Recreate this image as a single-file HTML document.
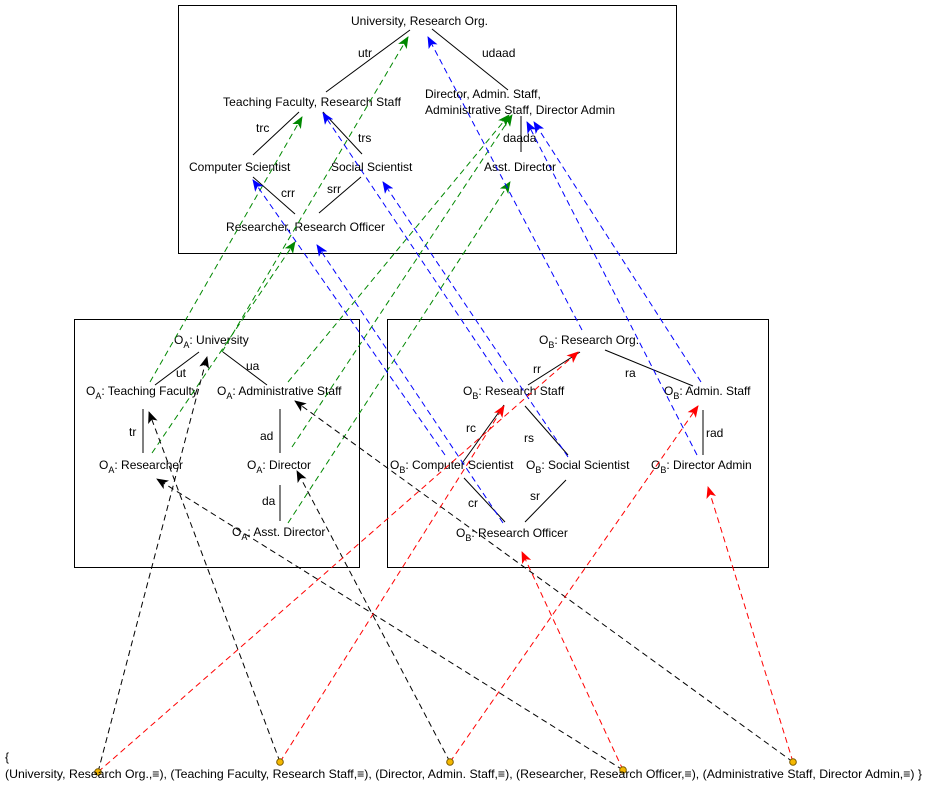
<!DOCTYPE html>
<html><head><meta charset="utf-8">
<style>
html,body{margin:0;padding:0;background:#fff;}
svg{display:block;}
text{font-family:"Liberation Sans",Arial,sans-serif;font-size:12px;fill:#000;}
.sub{font-size:9px;}
</style></head>
<body>
<svg width="936" height="807" viewBox="0 0 936 807" xmlns="http://www.w3.org/2000/svg">
<defs>
<marker id="mkk" viewBox="0 0 12 10" refX="11" refY="5" markerWidth="12" markerHeight="10" markerUnits="userSpaceOnUse" orient="auto"><path d="M0,0 L12,5 L0,10 L3,5 Z" fill="#000"/></marker>
<marker id="mkr" viewBox="0 0 12 10" refX="11" refY="5" markerWidth="12" markerHeight="10" markerUnits="userSpaceOnUse" orient="auto"><path d="M0,0 L12,5 L0,10 L3,5 Z" fill="#f00"/></marker>
<marker id="mkg" viewBox="0 0 12 10" refX="11" refY="5" markerWidth="12" markerHeight="10" markerUnits="userSpaceOnUse" orient="auto"><path d="M0,0 L12,5 L0,10 L3,5 Z" fill="#080"/></marker>
<marker id="mkb" viewBox="0 0 12 10" refX="11" refY="5" markerWidth="12" markerHeight="10" markerUnits="userSpaceOnUse" orient="auto"><path d="M0,0 L12,5 L0,10 L3,5 Z" fill="#00f"/></marker>
</defs>

<rect x="178.5" y="5.5" width="498" height="248" fill="none" stroke="#000"/>
<rect x="74.5" y="319.5" width="285" height="248" fill="none" stroke="#000"/>
<rect x="387.5" y="319.5" width="381" height="248" fill="none" stroke="#000"/>

<g stroke="#000" stroke-width="1">
<line x1="326" y1="92" x2="410" y2="30"/>
<line x1="432" y1="29" x2="508" y2="90"/>
<line x1="299" y1="112" x2="253" y2="155"/>
<line x1="323" y1="112" x2="362" y2="154"/>
<line x1="521" y1="116" x2="521" y2="152"/>
<line x1="253" y1="177" x2="295" y2="214"/>
<line x1="319" y1="213" x2="361" y2="177"/>
</g>
<g>
<text x="351" y="25" textLength="137">University, Research Org.</text>
<text x="358" y="57">utr</text>
<text x="482" y="57">udaad</text>
<text x="223" y="106" textLength="178">Teaching Faculty, Research Staff</text>
<text x="425" y="98">Director, Admin. Staff,</text>
<text x="425" y="114" textLength="190">Administrative Staff, Director Admin</text>
<text x="256" y="132">trc</text>
<text x="358" y="142">trs</text>
<text x="503" y="142">daada</text>
<text x="189" y="171">Computer Scientist</text>
<text x="331" y="171">Social Scientist</text>
<text x="484" y="171">Asst. Director</text>
<text x="281" y="197">crr</text>
<text x="327" y="193">srr</text>
<text x="226" y="231" textLength="159">Researcher, Research Officer</text>
</g>

<g stroke="#000">
<line x1="155" y1="385" x2="199" y2="352"/>
<line x1="223" y1="352" x2="267" y2="385"/>
<line x1="143" y1="409" x2="143" y2="453"/>
<line x1="280" y1="409" x2="280" y2="453"/>
<line x1="280" y1="485" x2="280" y2="521"/>
</g>
<g>
<text x="174" y="344">O<tspan class="sub" dy="4">A</tspan><tspan dy="-4">: University</tspan></text>
<text x="176" y="377">ut</text>
<text x="246" y="370">ua</text>
<text x="86" y="395">O<tspan class="sub" dy="4">A</tspan><tspan dy="-4">: Teaching Faculty</tspan></text>
<text x="217" y="395">O<tspan class="sub" dy="4">A</tspan><tspan dy="-4">: Administrative Staff</tspan></text>
<text x="129" y="436">tr</text>
<text x="260" y="440">ad</text>
<text x="99" y="469">O<tspan class="sub" dy="4">A</tspan><tspan dy="-4">: Researcher</tspan></text>
<text x="247" y="469">O<tspan class="sub" dy="4">A</tspan><tspan dy="-4">: Director</tspan></text>
<text x="262" y="505">da</text>
<text x="232" y="536">O<tspan class="sub" dy="4">A</tspan><tspan dy="-4">: Asst. Director</tspan></text>
</g>

<g stroke="#000">
<line x1="528" y1="385" x2="580" y2="352"/>
<line x1="605" y1="350" x2="693" y2="386"/>
<line x1="463" y1="462" x2="504" y2="405"/>
<line x1="525" y1="406" x2="568" y2="455"/>
<line x1="703" y1="410" x2="703" y2="455"/>
<line x1="464" y1="478" x2="505" y2="522"/>
<line x1="566" y1="480" x2="525" y2="522"/>
</g>
<g>
<text x="539" y="344">O<tspan class="sub" dy="4">B</tspan><tspan dy="-4">: Research Org.</tspan></text>
<text x="533" y="373">rr</text>
<text x="625" y="377">ra</text>
<text x="463" y="395">O<tspan class="sub" dy="4">B</tspan><tspan dy="-4">: Research Staff</tspan></text>
<text x="664" y="395">O<tspan class="sub" dy="4">B</tspan><tspan dy="-4">: Admin. Staff</tspan></text>
<text x="466" y="432">rc</text>
<text x="524" y="442">rs</text>
<text x="706" y="437">rad</text>
<text x="390" y="469">O<tspan class="sub" dy="4">B</tspan><tspan dy="-4">: Computer Scientist</tspan></text>
<text x="526" y="469">O<tspan class="sub" dy="4">B</tspan><tspan dy="-4">: Social Scientist</tspan></text>
<text x="651" y="469">O<tspan class="sub" dy="4">B</tspan><tspan dy="-4">: Director Admin</tspan></text>
<text x="468" y="507">cr</text>
<text x="530" y="500">sr</text>
<text x="456" y="537">O<tspan class="sub" dy="4">B</tspan><tspan dy="-4">: Research Officer</tspan></text>
</g>

<g stroke="#080" stroke-dasharray="6,4" fill="none" marker-end="url(#mkg)">
<line x1="222" y1="352" x2="408" y2="37"/>
<line x1="150" y1="382" x2="302" y2="117"/>
<line x1="152" y1="453" x2="295" y2="242"/>
<line x1="288" y1="382" x2="509" y2="115"/>
<line x1="292" y1="447" x2="512" y2="115"/>
<line x1="288" y1="523" x2="510" y2="182"/>
</g>

<g stroke="#00f" stroke-dasharray="6,4" fill="none" marker-end="url(#mkb)">
<line x1="582" y1="330" x2="428" y2="37"/>
<line x1="503" y1="382" x2="323" y2="113"/>
<line x1="445" y1="455" x2="253" y2="180"/>
<line x1="568" y1="457" x2="383" y2="182"/>
<line x1="503" y1="523" x2="317" y2="245"/>
<line x1="701" y1="382" x2="534" y2="122"/>
<line x1="697" y1="455" x2="527" y2="122"/>
</g>

<g stroke="#000" stroke-dasharray="6,4" fill="none" marker-end="url(#mkk)">
<line x1="98" y1="772" x2="207" y2="357"/>
<line x1="280" y1="762" x2="149" y2="412"/>
<line x1="450" y1="762" x2="297" y2="471"/>
<line x1="623" y1="770" x2="157" y2="479"/>
<line x1="793" y1="762" x2="295" y2="401"/>
</g>

<g stroke="#f00" stroke-dasharray="6,4" fill="none" marker-end="url(#mkr)">
<line x1="98" y1="772" x2="578" y2="352"/>
<line x1="280" y1="762" x2="504" y2="406"/>
<line x1="450" y1="762" x2="698" y2="406"/>
<line x1="623" y1="770" x2="522" y2="552"/>
<line x1="793" y1="762" x2="708" y2="487"/>
</g>

<g fill="#f5b800" stroke="#7a5a00" stroke-width="1">
<circle cx="98" cy="772" r="3.3"/>
<circle cx="280" cy="762" r="3.3"/>
<circle cx="450" cy="762" r="3.3"/>
<circle cx="623" cy="770" r="3.3"/>
<circle cx="793" cy="762" r="3.3"/>
</g>

<g>
<text x="5" y="761">{</text>
<text x="5" y="778" textLength="917" lengthAdjust="spacingAndGlyphs">(University, Research Org.,≡), (Teaching Faculty, Research Staff,≡), (Director, Admin. Staff,≡), (Researcher, Research Officer,≡), (Administrative Staff, Director Admin,≡) }</text>
</g>
</svg>
</body></html>
